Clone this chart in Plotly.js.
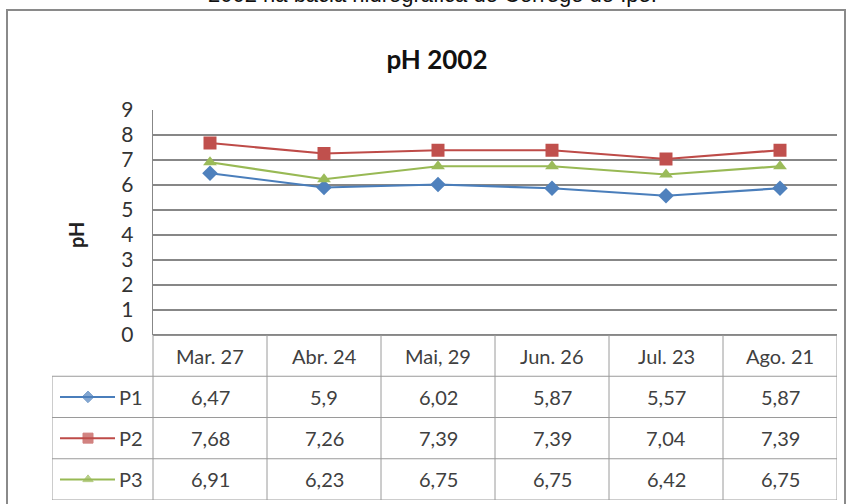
<!DOCTYPE html>
<html>
<head>
<meta charset="utf-8">
<script src="https://cdn.plot.ly/plotly-3.0.1.min.js"></script>
<style>html,body{margin:0;padding:0;background:#fff;}#chart{width:851px;height:504px;}</style>
</head>
<body>
<div id="chart"></div>
<script>
// ---- data ----
const categories = ['Mar. 27', 'Abr. 24', 'Mai, 29', 'Jun. 26', 'Jul. 23', 'Ago. 21'];
const seriesNames = ['P1', 'P2', 'P3'];
const p1 = [6.47, 5.9, 6.02, 5.87, 5.57, 5.87];
const p2 = [7.68, 7.26, 7.39, 7.39, 7.04, 7.39];
const p3 = [6.91, 6.23, 6.75, 6.75, 6.42, 6.75];
const yTickVals = [0, 1, 2, 3, 4, 5, 6, 7, 8, 9];
const chartTitle = 'pH 2002';
const yTitle = 'pH';
const caption = '2002 na bacia hidrográfica do Córrego do Ipê.';

// ---- styling ----
const W = 851, H = 504;
const FONT = 'Lato, "Open Sans", sans-serif';
const lineColors = ['#4A7EBB', '#BE4B48', '#98B954'];
const markerColors = ['#4F81BD', '#C0504D', '#9BBB59'];
const symbols = ['diamond', 'square', 'triangle-up'];
const msizes = [12, 13, 12];
const keySizes = [9, 10, 9];
const series = [p1, p2, p3];

const px = v => v / W;
const py = v => 1 - v / H;

// table x axis: columns 114px wide, plot from 153 to 837, legend col from 52
const colW = (837 - 153) / categories.length;
const tLeft = -0.5 - (153 - 52) / colW;
const xTab = p => (p - 52) / colW + tLeft;

const traces = [];
series.forEach((s, i) => {
  traces.push({
    x: categories, y: s, type: 'scatter', mode: 'lines+markers', name: seriesNames[i],
    line: {color: lineColors[i], width: 2.2},
    marker: {symbol: symbols[i], size: msizes[i], color: markerColors[i]},
    xaxis: 'x', yaxis: 'y', hoverinfo: 'x+y+name'
  });
  // legend key in data table
  traces.push({
    x: [xTab(60), xTab(88), xTab(115)], y: [i + 1, i + 1, i + 1],
    type: 'scatter', mode: 'lines+markers', showlegend: false, hoverinfo: 'skip',
    line: {color: lineColors[i], width: 2},
    marker: {symbol: symbols[i], size: [0, keySizes[i], 0], color: markerColors[i]},
    xaxis: 'x2', yaxis: 'y2'
  });
});

const annotations = [];
const shapes = [];
const tcol = '#404040';
// header
categories.forEach((c, j) => {
  annotations.push({x: j, y: 0, xref: 'x2', yref: 'y2', text: c, showarrow: false,
    font: {family: FONT, size: 20, color: tcol}});
});
series.forEach((s, i) => {
  annotations.push({x: xTab(117), y: i + 1, xref: 'x2', yref: 'y2', text: seriesNames[i],
    xanchor: 'left', showarrow: false, font: {family: FONT, size: 20, color: tcol}});
  s.forEach((v, j) => {
    annotations.push({x: j, y: i + 1, xref: 'x2', yref: 'y2', text: String(v).replace('.', ','),
      showarrow: false, font: {family: FONT, size: 20, color: tcol}});
  });
});
// table grid
const gc = '#9a9a9a';
const nRows = seriesNames.length;
shapes.push({type: 'line', xref: 'x2', yref: 'y2', x0: -0.5, x1: categories.length - 0.5, y0: -0.5, y1: -0.5, line: {color: gc, width: 1}});
for (let r = 0; r <= nRows; r++) {
  shapes.push({type: 'line', xref: 'x2', yref: 'y2', x0: tLeft, x1: categories.length - 0.5, y0: r + 0.5, y1: r + 0.5, line: {color: gc, width: 1}});
}
shapes.push({type: 'line', xref: 'x2', yref: 'y2', x0: tLeft, x1: tLeft, y0: 0.5, y1: nRows + 0.5, line: {color: gc, width: 1}});
for (let c = 0; c <= categories.length; c++) {
  shapes.push({type: 'line', xref: 'x2', yref: 'y2', x0: c - 0.5, x1: c - 0.5, y0: -0.5, y1: nRows + 0.5, line: {color: gc, width: 1}});
}
// outer chart frame
shapes.push({type: 'rect', xref: 'paper', yref: 'paper', x0: px(7), x1: px(845), y0: -0.05, y1: py(10),
  line: {color: '#8a8a8a', width: 2}, fillcolor: 'rgba(0,0,0,0)', layer: 'below'});

// caption (cut off at top, as in the reference)
annotations.push({x: px(432), y: py(9), xref: 'paper', yref: 'paper', yanchor: 'bottom', text: caption,
  showarrow: false, font: {family: '"Liberation Sans", Arial, sans-serif', size: 22, color: '#111'}});
// y axis title
annotations.push({x: px(62), y: py(235), xref: 'paper', yref: 'paper', text: '<b>' + yTitle + '</b>',
  textangle: -90, showarrow: false, font: {family: FONT, size: 20, color: '#222'}});

const layout = {
  width: W, height: H,
  margin: {l: 0, r: 0, t: 0, b: 0},
  paper_bgcolor: '#fff', plot_bgcolor: '#fff',
  showlegend: false,
  title: {text: '<b>' + chartTitle + '</b>', x: px(437), xanchor: 'center', y: py(60), yanchor: 'middle',
    xref: 'paper', yref: 'paper', font: {family: FONT, size: 26, color: '#111'}},
  xaxis: {domain: [px(153), px(837)], type: 'category', range: [-0.5, categories.length - 0.5],
    showticklabels: false, showgrid: false, zeroline: false, showline: false, ticks: '', anchor: 'y', fixedrange: true},
  yaxis: {domain: [py(335), py(110)], range: [0, 9], tickvals: yTickVals, showgrid: true,
    gridcolor: '#878787', gridwidth: 1.3, zeroline: true, zerolinecolor: '#878787', zerolinewidth: 1.3,
    showline: true, linecolor: '#878787', linewidth: 1.3,
    ticks: 'outside', ticklen: 14, tickcolor: 'rgba(0,0,0,0)',
    tickfont: {family: FONT, size: 21, color: '#333'}, anchor: 'x', fixedrange: true},
  xaxis2: {domain: [px(52), px(837)], range: [tLeft, categories.length - 0.5], visible: false, anchor: 'y2', fixedrange: true},
  yaxis2: {domain: [py(500), py(335)], range: [nRows + 0.5, -0.5], visible: false, anchor: 'x2', fixedrange: true},
  annotations: annotations,
  shapes: shapes
};

Plotly.newPlot('chart', traces, layout, {displayModeBar: false, staticPlot: true});
</script>
</body>
</html>
